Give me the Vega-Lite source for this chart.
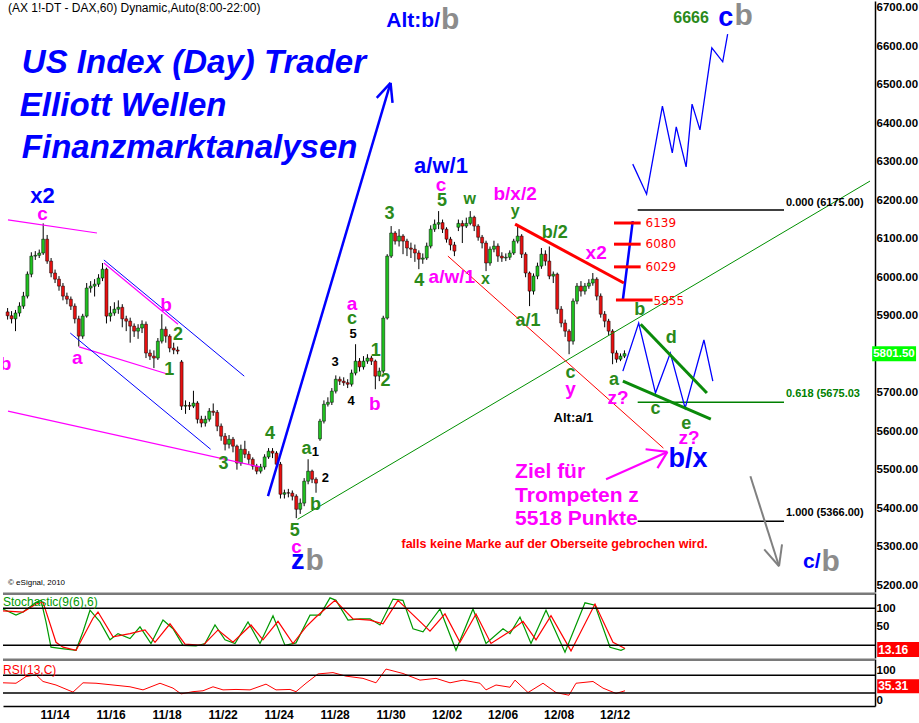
{
"$schema": "https://vega.github.io/schema/vega-lite/v6.json",
"padding": 0,
"background": "white",
"spacing": 0,
"config": {"view": {"stroke": null}, "axis": {"labelFont": "Liberation Sans", "labelFontSize": 11.5, "labelFontWeight": "bold", "labelColor": "black", "ticks": false, "grid": false, "domainColor": "black", "domainWidth": 1.5, "labelPadding": 1, "labelOverlap": false}},
"datasets": {
"candles": [
{"t":-26,"o":5910,"h":5920,"l":5890,"c":5900},{"t":-24,"o":5900,"h":5912,"l":5880,"c":5892},{"t":-22,"o":5892,"h":5915,"l":5860,"c":5907},{"t":-20,"o":5907,"h":5935,"l":5898,"c":5925},{"t":-18,"o":5925,"h":5962,"l":5918,"c":5951},{"t":-16,"o":5951,"h":6015,"l":5945,"c":6008},{"t":-14,"o":6008,"h":6065,"l":6000,"c":6055},{"t":-12,"o":6055,"h":6068,"l":6045,"c":6057},{"t":-10,"o":6057,"h":6072,"l":6050,"c":6063},{"t":-8,"o":6063,"h":6140,"l":6058,"c":6099},
{"t":-6,"o":6099,"h":6110,"l":6035,"c":6042},{"t":-4,"o":6042,"h":6050,"l":6000,"c":6011},{"t":-2,"o":6011,"h":6020,"l":5985,"c":5995},{"t":0,"o":5995,"h":6003,"l":5965,"c":5977},{"t":2,"o":5977,"h":5985,"l":5940,"c":5951},{"t":4,"o":5951,"h":5960,"l":5930,"c":5943},{"t":6,"o":5943,"h":5950,"l":5915,"c":5925},{"t":8,"o":5925,"h":5932,"l":5880,"c":5892},{"t":10,"o":5892,"h":5900,"l":5820,"c":5847},{"t":12,"o":5847,"h":5905,"l":5840,"c":5899},
{"t":14,"o":5899,"h":5985,"l":5895,"c":5972},{"t":16,"o":5972,"h":5990,"l":5960,"c":5977},{"t":18,"o":5977,"h":5995,"l":5950,"c":5982},{"t":20,"o":5982,"h":6008,"l":5975,"c":5998},{"t":22,"o":5998,"h":6037,"l":5990,"c":6021},{"t":24,"o":6021,"h":6025,"l":5880,"c":5899},{"t":26,"o":5899,"h":5925,"l":5885,"c":5907},{"t":28,"o":5907,"h":5935,"l":5900,"c":5917},{"t":30,"o":5917,"h":5940,"l":5905,"c":5922},{"t":32,"o":5922,"h":5930,"l":5870,"c":5892},
{"t":34,"o":5892,"h":5900,"l":5860,"c":5886},{"t":36,"o":5886,"h":5895,"l":5830,"c":5873},{"t":38,"o":5873,"h":5880,"l":5845,"c":5860},{"t":40,"o":5860,"h":5878,"l":5840,"c":5868},{"t":42,"o":5868,"h":5888,"l":5855,"c":5878},{"t":44,"o":5878,"h":5885,"l":5790,"c":5803},{"t":46,"o":5803,"h":5812,"l":5785,"c":5795},{"t":48,"o":5795,"h":5810,"l":5764,"c":5790},{"t":50,"o":5790,"h":5842,"l":5785,"c":5834},{"t":52,"o":5834,"h":5904,"l":5828,"c":5865},
{"t":54,"o":5865,"h":5872,"l":5830,"c":5847},{"t":56,"o":5847,"h":5852,"l":5805,"c":5816},{"t":58,"o":5816,"h":5830,"l":5800,"c":5811},{"t":60,"o":5811,"h":5820,"l":5800,"c":5808},{"t":62,"o":5780,"h":5785,"l":5655,"c":5665},{"t":64,"o":5665,"h":5680,"l":5645,"c":5667},{"t":66,"o":5667,"h":5676,"l":5655,"c":5665},{"t":68,"o":5665,"h":5705,"l":5660,"c":5673},{"t":70,"o":5673,"h":5678,"l":5620,"c":5631},{"t":72,"o":5631,"h":5640,"l":5610,"c":5621},
{"t":74,"o":5621,"h":5640,"l":5612,"c":5631},{"t":76,"o":5631,"h":5660,"l":5625,"c":5652},{"t":78,"o":5652,"h":5672,"l":5640,"c":5649},{"t":80,"o":5649,"h":5655,"l":5600,"c":5613},{"t":82,"o":5613,"h":5620,"l":5575,"c":5587},{"t":84,"o":5587,"h":5595,"l":5550,"c":5566},{"t":86,"o":5566,"h":5590,"l":5555,"c":5579},{"t":88,"o":5579,"h":5585,"l":5545,"c":5561},{"t":90,"o":5561,"h":5565,"l":5500,"c":5517},{"t":92,"o":5517,"h":5565,"l":5510,"c":5553},
{"t":94,"o":5553,"h":5575,"l":5530,"c":5540},{"t":96,"o":5540,"h":5548,"l":5515,"c":5527},{"t":98,"o":5527,"h":5532,"l":5500,"c":5509},{"t":100,"o":5509,"h":5515,"l":5488,"c":5496},{"t":102,"o":5496,"h":5515,"l":5490,"c":5507},{"t":104,"o":5507,"h":5540,"l":5500,"c":5533},{"t":106,"o":5533,"h":5556,"l":5528,"c":5548},{"t":108,"o":5548,"h":5556,"l":5530,"c":5543},{"t":110,"o":5543,"h":5548,"l":5500,"c":5514},{"t":112,"o":5514,"h":5520,"l":5425,"c":5436},
{"t":114,"o":5436,"h":5448,"l":5425,"c":5440},{"t":116,"o":5440,"h":5450,"l":5428,"c":5439},{"t":118,"o":5439,"h":5446,"l":5420,"c":5431},{"t":120,"o":5431,"h":5436,"l":5374,"c":5397},{"t":122,"o":5397,"h":5425,"l":5385,"c":5413},{"t":124,"o":5413,"h":5478,"l":5405,"c":5470},{"t":126,"o":5470,"h":5527,"l":5462,"c":5496},{"t":128,"o":5496,"h":5500,"l":5465,"c":5475},{"t":130,"o":5475,"h":5480,"l":5440,"c":5465},{"t":132,"o":5580,"h":5632,"l":5575,"c":5626},
{"t":134,"o":5626,"h":5680,"l":5620,"c":5670},{"t":136,"o":5670,"h":5688,"l":5664,"c":5675},{"t":138,"o":5675,"h":5712,"l":5668,"c":5704},{"t":140,"o":5704,"h":5745,"l":5698,"c":5735},{"t":142,"o":5735,"h":5742,"l":5720,"c":5730},{"t":144,"o":5730,"h":5740,"l":5718,"c":5726},{"t":146,"o":5726,"h":5735,"l":5712,"c":5722},{"t":148,"o":5722,"h":5760,"l":5716,"c":5751},{"t":150,"o":5751,"h":5826,"l":5745,"c":5782},{"t":152,"o":5782,"h":5790,"l":5755,"c":5767},
{"t":154,"o":5767,"h":5795,"l":5760,"c":5782},{"t":156,"o":5782,"h":5800,"l":5775,"c":5790},{"t":158,"o":5790,"h":5796,"l":5772,"c":5782},{"t":160,"o":5782,"h":5786,"l":5709,"c":5743},{"t":162,"o":5743,"h":5765,"l":5730,"c":5756},{"t":164,"o":5756,"h":5900,"l":5750,"c":5894},{"t":166,"o":5894,"h":6060,"l":5890,"c":6055},{"t":168,"o":6055,"h":6133,"l":6050,"c":6115},{"t":170,"o":6115,"h":6120,"l":6085,"c":6094},{"t":172,"o":6094,"h":6125,"l":6080,"c":6107},
{"t":174,"o":6107,"h":6112,"l":6060,"c":6094},{"t":176,"o":6094,"h":6100,"l":6055,"c":6076},{"t":178,"o":6076,"h":6090,"l":6050,"c":6073},{"t":180,"o":6073,"h":6085,"l":6040,"c":6063},{"t":182,"o":6063,"h":6070,"l":6021,"c":6047},{"t":184,"o":6047,"h":6062,"l":6035,"c":6050},{"t":186,"o":6050,"h":6090,"l":6045,"c":6081},{"t":188,"o":6081,"h":6135,"l":6075,"c":6125},{"t":190,"o":6125,"h":6150,"l":6118,"c":6138},{"t":192,"o":6138,"h":6172,"l":6125,"c":6142},
{"t":194,"o":6142,"h":6150,"l":6115,"c":6125},{"t":196,"o":6125,"h":6130,"l":6090,"c":6099},{"t":198,"o":6099,"h":6105,"l":6070,"c":6084},{"t":200,"o":6084,"h":6092,"l":6055,"c":6068},{"t":202,"o":6130,"h":6150,"l":6120,"c":6140},{"t":204,"o":6140,"h":6148,"l":6089,"c":6133},{"t":206,"o":6133,"h":6155,"l":6128,"c":6140},{"t":208,"o":6140,"h":6172,"l":6135,"c":6156},{"t":210,"o":6156,"h":6160,"l":6120,"c":6133},{"t":212,"o":6133,"h":6138,"l":6095,"c":6104},
{"t":214,"o":6104,"h":6110,"l":6075,"c":6089},{"t":216,"o":6089,"h":6095,"l":6016,"c":6037},{"t":218,"o":6037,"h":6080,"l":6030,"c":6073},{"t":220,"o":6073,"h":6095,"l":6065,"c":6081},{"t":222,"o":6081,"h":6088,"l":6040,"c":6055},{"t":224,"o":6055,"h":6065,"l":6040,"c":6050},{"t":226,"o":6050,"h":6062,"l":6042,"c":6052},{"t":228,"o":6052,"h":6070,"l":6045,"c":6063},{"t":230,"o":6063,"h":6100,"l":6058,"c":6094},{"t":232,"o":6094,"h":6133,"l":6088,"c":6107},
{"t":234,"o":6107,"h":6112,"l":6050,"c":6060},{"t":236,"o":6060,"h":6065,"l":6000,"c":6011},{"t":238,"o":6011,"h":6015,"l":5925,"c":5964},{"t":240,"o":5964,"h":6010,"l":5955,"c":6003},{"t":242,"o":6003,"h":6038,"l":5995,"c":6029},{"t":244,"o":6029,"h":6076,"l":6022,"c":6060},{"t":246,"o":6060,"h":6070,"l":6030,"c":6042},{"t":248,"o":6042,"h":6080,"l":5995,"c":6003},{"t":250,"o":6003,"h":6015,"l":5985,"c":6008},{"t":252,"o":6008,"h":6012,"l":5905,"c":5917},
{"t":254,"o":5917,"h":5925,"l":5870,"c":5881},{"t":256,"o":5881,"h":5890,"l":5845,"c":5860},{"t":258,"o":5860,"h":5865,"l":5800,"c":5834},{"t":260,"o":5834,"h":5945,"l":5825,"c":5938},{"t":262,"o":5938,"h":5985,"l":5930,"c":5977},{"t":264,"o":5977,"h":5990,"l":5950,"c":5964},{"t":266,"o":5964,"h":5985,"l":5955,"c":5977},{"t":268,"o":5977,"h":5995,"l":5970,"c":5985},{"t":270,"o":5985,"h":6011,"l":5978,"c":5995},{"t":272,"o":5995,"h":6000,"l":5940,"c":5951},
{"t":274,"o":5951,"h":5958,"l":5895,"c":5904},{"t":276,"o":5904,"h":5912,"l":5870,"c":5886},{"t":278,"o":5886,"h":5892,"l":5850,"c":5860},{"t":280,"o":5860,"h":5865,"l":5774,"c":5803},{"t":282,"o":5803,"h":5810,"l":5778,"c":5787},{"t":284,"o":5787,"h":5802,"l":5782,"c":5795},{"t":286,"o":5795,"h":5810,"l":5790,"c":5801.5}
],
"seg_magenta": [{"t":-25.8,"v":6149,"t2":19.2,"v2":6115},{"t":22.7,"v":6037,"t2":60.2,"v2":5878},{"t":10.2,"v":5819,"t2":55.2,"v2":5748},{"t":-25.8,"v":5652,"t2":101.7,"v2":5507}],
"seg_magenta_arrow": [{"t":276.7,"v":5475,"t2":307.7,"v2":5546},{"t":307.7,"v":5546,"t2":296.7,"v2":5553},{"t":307.7,"v":5546,"t2":302.7,"v2":5504}],
"seg_blue_thin": [{"t":22.7,"v":6045,"t2":93.7,"v2":5743},{"t":5.7,"v":5855,"t2":76.7,"v2":5553}],
"seg_blue_thick": [{"t":105.7,"v":5431,"t2":167.7,"v2":6505},{"t":167.7,"v":6505,"t2":160.7,"v2":6466},{"t":167.7,"v":6505,"t2":168.7,"v2":6453},{"t":285.2,"v":5941,"t2":290.2,"v2":6146}],
"seg_green_thin": [{"t":120.7,"v":5371,"t2":410.2,"v2":6250}],
"seg_green_thick": [{"t":294.2,"v":5878,"t2":327.7,"v2":5699},{"t":285.2,"v":5730,"t2":329.7,"v2":5631}],
"seg_red_thin": [{"t":196.7,"v":6055,"t2":305.7,"v2":5556}],
"seg_red_thick": [{"t":230.7,"v":6138,"t2":285.7,"v2":5985},{"t":280.7,"v":6141,"t2":294.2,"v2":6141},{"t":280.7,"v":6086,"t2":294.2,"v2":6086},{"t":280.7,"v":6027,"t2":294.2,"v2":6027},{"t":281.7,"v":5941,"t2":300.2,"v2":5941}],
"seg_gray": [{"t":349.7,"v":5483,"t2":364.2,"v2":5249},{"t":364.2,"v":5249,"t2":356.7,"v2":5293},{"t":364.2,"v":5249,"t2":365.7,"v2":5306}],
"fib_black": [{"t":292.7,"v":6175,"t2":366.7,"v2":6175},{"t":292.7,"v":5366,"t2":366.7,"v2":5366}],
"fib_green": [{"t":292.7,"v":5675.03,"t2":366.7,"v2":5675.03}],
"zig": [
{"id":"low","t":285.2,"v":5756},{"id":"low","t":293.2,"v":5881},{"id":"low","t":301.7,"v":5699},{"id":"low","t":309.2,"v":5803},{"id":"low","t":316.7,"v":5660},{"id":"low","t":326.2,"v":5837},{"id":"low","t":330.7,"v":5730},
{"id":"up","t":290.2,"v":6294},{"id":"up","t":297.2,"v":6216},{"id":"up","t":305.2,"v":6445},{"id":"up","t":310.2,"v":6323},{"id":"up","t":312.2,"v":6391},{"id":"up","t":317.2,"v":6287},{"id":"up","t":320.2,"v":6450},{"id":"up","t":324.2,"v":6383},{"id":"up","t":330.2,"v":6596},{"id":"up","t":335.7,"v":6560},{"id":"up","t":338.2,"v":6632}
],
"lbl_green": [{"t":60.2,"v":5850,"text":"2"},{"t":55.7,"v":5759,"text":"1"},{"t":83.2,"v":5514,"text":"3"},{"t":106.7,"v":5592,"text":"4"},{"t":125.2,"v":5553,"text":"a"},{"t":129.7,"v":5408,"text":"b"},{"t":119.2,"v":5340,"text":"5"},{"t":148.2,"v":5891,"text":"c"},{"t":160.2,"v":5808,"text":"1"},{"t":165.2,"v":5730,"text":"2"},{"t":167.2,"v":6164,"text":"3"},{"t":182.2,"v":5990,"text":"4"},{"t":193.7,"v":6198,"text":"5"},{"t":250.7,"v":6115,"text":"b/2"},{"t":237.2,"v":5886,"text":"a/1"},{"t":258.7,"v":5751,"text":"c"},{"t":280.7,"v":5733,"text":"a"},{"t":293.7,"v":5915,"text":"b"},{"t":309.7,"v":5842,"text":"d"},{"t":301.7,"v":5657,"text":"c"},{"t":317.2,"v":5618,"text":"e"}],
"lbl_green_small": [{"t":207.7,"v":6203,"text":"w"},{"t":215.7,"v":5995,"text":"x"},{"t":230.7,"v":6172,"text":"y"},{"t":319.7,"v":6674,"text":"6666"}],
"lbl_magenta": [{"t":-8.3,"v":6164,"text":"c"},{"t":9.2,"v":5790,"text":"a"},{"t":54.2,"v":5928,"text":"b"},{"t":-27,"v":5774,"text":"b"},{"t":120.2,"v":5299,"text":"c"},{"t":148.2,"v":5930,"text":"a"},{"t":159.7,"v":5670,"text":"b"},{"t":193.2,"v":6240,"text":"c"},{"t":198.7,"v":6001,"text":"a/w/1"},{"t":230.7,"v":6216,"text":"b/x/2"},{"t":271.7,"v":6063,"text":"x2"},{"t":258.7,"v":5709,"text":"y"},{"t":282.7,"v":5686,"text":"z?"},{"t":318.7,"v":5582,"text":"z?"}],
"lbl_ziel": [{"t":230.7,"v":5494,"text":"Ziel für"},{"t":230.7,"v":5431,"text":"Trompeten z"},{"t":230.7,"v":5371,"text":"5518 Punkte"}],
"lbl_black": [{"t":148.7,"v":5852,"text":"5"},{"t":139.7,"v":5780,"text":"3"},{"t":147.7,"v":5678,"text":"4"},{"t":134.7,"v":5478,"text":"2"},{"t":129.7,"v":5546,"text":"1"},{"t":260.2,"v":5634,"text":"Alt:a/1"}],
"lbl_blue": [{"t":-8.3,"v":6210,"text":"x2"},{"t":193.2,"v":6289,"text":"a/w/1"}],
"lbl_blue_big": [{"t":120.7,"v":5262,"text":"z"},{"t":318.2,"v":5527,"text":"b/x"},{"t":337.2,"v":6674,"text":"c"}],
"lbl_blue_right": [{"t":192.7,"v":6666,"text":"Alt:b/"},{"t":385.2,"v":5260,"text":"c/"}],
"lbl_gray": [{"t":193.2,"v":6669,"text":"b"},{"t":124.7,"v":5262,"text":"b"},{"t":341.7,"v":6680,"text":"b"},{"t":385.7,"v":5260,"text":"b"}],
"lbl_title": [{"t":-18.8,"v":6557,"text":"US Index (Day) Trader"},{"t":-19.8,"v":6445,"text":"Elliott Wellen"},{"t":-18.8,"v":6336,"text":"Finanzmarktanalysen"}],
"lbl_red": [{"t":296.7,"v":6141,"text":"6139"},{"t":296.7,"v":6086,"text":"6080"},{"t":296.7,"v":6027,"text":"6029"},{"t":300.7,"v":5938,"text":"5955"}],
"lbl_fib_black": [{"t":367.7,"v":6193,"text":"0.000 (6175.00)"},{"t":367.7,"v":5387,"text":"1.000 (5366.00)"}],
"lbl_fib_green": [{"t":367.7,"v":5696,"text":"0.618 (5675.03"}],
"stochK": [{"t":-25.8,"v":79},{"t":-19.3,"v":69},{"t":-15.8,"v":74},{"t":-9.3,"v":90},{"t":-6.8,"v":93},{"t":-4.3,"v":58},{"t":-1.8,"v":17},{"t":2.7,"v":15},{"t":10.7,"v":12},{"t":14.2,"v":42},{"t":17.7,"v":77},{"t":22.7,"v":58},{"t":27.7,"v":29},{"t":31.7,"v":39},{"t":37.7,"v":31},{"t":42.7,"v":50},{"t":48.2,"v":23},{"t":54.2,"v":61},{"t":59.2,"v":47},{"t":64.2,"v":20},{"t":70.7,"v":19},{"t":75.2,"v":23},{"t":80.2,"v":53},{"t":85.2,"v":29},{"t":90.2,"v":23},{"t":96.7,"v":58},{"t":102.7,"v":23},{"t":109.2,"v":68},{"t":115.2,"v":20},{"t":120.7,"v":24},{"t":127.7,"v":69},{"t":132.7,"v":69},{"t":137.7,"v":97},{"t":140.7,"v":93},{"t":146.7,"v":61},{"t":152.7,"v":63},{"t":157.7,"v":63},{"t":162.7,"v":53},{"t":169.2,"v":95},{"t":174.2,"v":93},{"t":179.2,"v":47},{"t":184.2,"v":42},{"t":192.7,"v":79},{"t":200.7,"v":12},{"t":209.2,"v":79},{"t":215.7,"v":23},{"t":224.2,"v":47},{"t":227.7,"v":39},{"t":232.7,"v":66},{"t":238.2,"v":23},{"t":245.7,"v":77},{"t":255.2,"v":9},{"t":265.2,"v":89},{"t":270.2,"v":85},{"t":277.7,"v":17},{"t":283.2,"v":12},{"t":285.2,"v":15}],
"stochD": [{"t":-25.8,"v":76},{"t":-15.8,"v":74},{"t":-9.3,"v":87},{"t":-5.8,"v":90},{"t":0.7,"v":25},{"t":4.2,"v":17},{"t":10.7,"v":12},{"t":19.2,"v":64},{"t":21.7,"v":74},{"t":29.2,"v":34},{"t":37.7,"v":39},{"t":45.2,"v":45},{"t":50.2,"v":25},{"t":57.7,"v":55},{"t":65.2,"v":22},{"t":74.2,"v":20},{"t":81.7,"v":45},{"t":89.2,"v":25},{"t":98.2,"v":53},{"t":104.2,"v":29},{"t":111.7,"v":59},{"t":119.2,"v":23},{"t":125.7,"v":50},{"t":130.7,"v":66},{"t":140.2,"v":93},{"t":149.2,"v":63},{"t":157.7,"v":61},{"t":164.2,"v":55},{"t":171.7,"v":93},{"t":187.7,"v":43},{"t":195.2,"v":71},{"t":202.7,"v":25},{"t":210.7,"v":71},{"t":218.2,"v":23},{"t":227.7,"v":43},{"t":234.2,"v":59},{"t":240.7,"v":29},{"t":248.2,"v":68},{"t":258.2,"v":11},{"t":270.2,"v":87},{"t":279.2,"v":25},{"t":285.2,"v":15}],
"rsi": [{"t":-25.8,"v":53},{"t":-19.3,"v":52},{"t":-14.3,"v":67},{"t":-9.3,"v":71},{"t":-5.8,"v":56},{"t":0.7,"v":48},{"t":9.2,"v":32},{"t":14.2,"v":53},{"t":20.7,"v":52},{"t":29.2,"v":48},{"t":37.7,"v":44},{"t":44.2,"v":37},{"t":52.7,"v":52},{"t":59.2,"v":41},{"t":63.2,"v":28},{"t":69.2,"v":33},{"t":74.2,"v":35},{"t":79.2,"v":44},{"t":84.2,"v":37},{"t":90.7,"v":38},{"t":97.7,"v":37},{"t":105.7,"v":50},{"t":110.7,"v":37},{"t":117.7,"v":38},{"t":120.7,"v":33},{"t":125.7,"v":52},{"t":131.7,"v":73},{"t":139.2,"v":76},{"t":145.7,"v":68},{"t":154.2,"v":63},{"t":160.7,"v":53},{"t":165.7,"v":84},{"t":174.2,"v":74},{"t":182.7,"v":59},{"t":190.7,"v":63},{"t":197.7,"v":53},{"t":204.2,"v":59},{"t":212.7,"v":52},{"t":215.7,"v":37},{"t":220.7,"v":48},{"t":227.7,"v":43},{"t":230.2,"v":59},{"t":236.7,"v":31},{"t":244.2,"v":52},{"t":250.7,"v":31},{"t":257.2,"v":25},{"t":260.7,"v":52},{"t":269.2,"v":56},{"t":274.2,"v":41},{"t":280.7,"v":29},{"t":285.2,"v":35}]
},
"vconcat": [
{
"width": 872, "height": 591,
"resolve": {"axis": {"x": "independent", "y": "independent"}},
"layer": [
{"data": {"name": "candles"}, "mark": {"type": "rule", "color": "black", "strokeWidth": 1},
 "encoding": {"x": {"field": "t", "type": "quantitative", "scale": {"domain": [-25.8, 410.2], "nice": false, "zero": false}, "axis": null},
  "y": {"field": "l", "type": "quantitative", "scale": {"domain": [5182, 6718], "nice": false, "zero": false}, "axis": {"orient": "right", "title": null, "values": [5200,5300,5400,5500,5600,5700,5900,6000,6100,6200,6300,6400,6500,6600,6700], "format": ".2f"}},
  "y2": {"field": "h"}}},
{"data": {"name": "candles"}, "mark": {"type": "bar", "size": 3, "stroke": "black", "strokeWidth": 0.5},
 "encoding": {"x": {"field": "t", "type": "quantitative", "axis": null}, "y": {"field": "o", "type": "quantitative", "axis": null}, "y2": {"field": "c"},
  "color": {"condition": {"test": "datum.c >= datum.o", "value": "#1fc21f"}, "value": "#e81010"}}},
{"data": {"name": "seg_magenta"}, "mark": {"type": "rule", "color": "#ff00ff", "strokeWidth": 1.2, "clip": true},
 "encoding": {"x": {"field": "t", "type": "quantitative", "axis": null}, "y": {"field": "v", "type": "quantitative", "axis": null}, "x2": {"field": "t2"}, "y2": {"field": "v2"}}},
{"data": {"name": "seg_magenta_arrow"}, "mark": {"type": "rule", "color": "#ff00ff", "strokeWidth": 2.2},
 "encoding": {"x": {"field": "t", "type": "quantitative", "axis": null}, "y": {"field": "v", "type": "quantitative", "axis": null}, "x2": {"field": "t2"}, "y2": {"field": "v2"}}},
{"data": {"name": "seg_blue_thin"}, "mark": {"type": "rule", "color": "#0000ff", "strokeWidth": 1},
 "encoding": {"x": {"field": "t", "type": "quantitative", "axis": null}, "y": {"field": "v", "type": "quantitative", "axis": null}, "x2": {"field": "t2"}, "y2": {"field": "v2"}}},
{"data": {"name": "seg_blue_thick"}, "mark": {"type": "rule", "color": "#0000ff", "strokeWidth": 2.5},
 "encoding": {"x": {"field": "t", "type": "quantitative", "axis": null}, "y": {"field": "v", "type": "quantitative", "axis": null}, "x2": {"field": "t2"}, "y2": {"field": "v2"}}},
{"data": {"name": "seg_green_thin"}, "mark": {"type": "rule", "color": "#009000", "strokeWidth": 1, "clip": true},
 "encoding": {"x": {"field": "t", "type": "quantitative", "axis": null}, "y": {"field": "v", "type": "quantitative", "axis": null}, "x2": {"field": "t2"}, "y2": {"field": "v2"}}},
{"data": {"name": "seg_red_thin"}, "mark": {"type": "rule", "color": "#ff0000", "strokeWidth": 1},
 "encoding": {"x": {"field": "t", "type": "quantitative", "axis": null}, "y": {"field": "v", "type": "quantitative", "axis": null}, "x2": {"field": "t2"}, "y2": {"field": "v2"}}},
{"data": {"name": "seg_red_thick"}, "mark": {"type": "rule", "color": "#ff0000", "strokeWidth": 3},
 "encoding": {"x": {"field": "t", "type": "quantitative", "axis": null}, "y": {"field": "v", "type": "quantitative", "axis": null}, "x2": {"field": "t2"}, "y2": {"field": "v2"}}},
{"data": {"name": "fib_black"}, "mark": {"type": "rule", "color": "black", "strokeWidth": 1.5},
 "encoding": {"x": {"field": "t", "type": "quantitative", "axis": null}, "y": {"field": "v", "type": "quantitative", "axis": null}, "x2": {"field": "t2"}, "y2": {"field": "v2"}}},
{"data": {"name": "fib_green"}, "mark": {"type": "rule", "color": "#008000", "strokeWidth": 1.5},
 "encoding": {"x": {"field": "t", "type": "quantitative", "axis": null}, "y": {"field": "v", "type": "quantitative", "axis": null}, "x2": {"field": "t2"}, "y2": {"field": "v2"}}},
{"data": {"name": "zig"}, "mark": {"type": "line", "color": "#0000ff", "strokeWidth": 1.3},
 "encoding": {"x": {"field": "t", "type": "quantitative", "axis": null}, "y": {"field": "v", "type": "quantitative", "axis": null}, "detail": {"field": "id"}}},
{"data": {"name": "seg_green_thick"}, "mark": {"type": "rule", "color": "#0a8a0a", "strokeWidth": 3},
 "encoding": {"x": {"field": "t", "type": "quantitative", "axis": null}, "y": {"field": "v", "type": "quantitative", "axis": null}, "x2": {"field": "t2"}, "y2": {"field": "v2"}}},
{"data": {"name": "seg_gray"}, "mark": {"type": "rule", "color": "#808080", "strokeWidth": 2},
 "encoding": {"x": {"field": "t", "type": "quantitative", "axis": null}, "y": {"field": "v", "type": "quantitative", "axis": null}, "x2": {"field": "t2"}, "y2": {"field": "v2"}}},
{"data": {"name": "lbl_green"}, "mark": {"type": "text", "font": "Liberation Sans", "fontWeight": "bold", "fontSize": 18, "color": "#2a8a1a", "align": "center", "baseline": "middle"},
 "encoding": {"x": {"field": "t", "type": "quantitative", "axis": null}, "y": {"field": "v", "type": "quantitative", "axis": null}, "text": {"field": "text"}}},
{"data": {"name": "lbl_green_small"}, "mark": {"type": "text", "font": "Liberation Sans", "fontWeight": "bold", "fontSize": 16, "color": "#2a8a1a", "align": "center", "baseline": "middle"},
 "encoding": {"x": {"field": "t", "type": "quantitative", "axis": null}, "y": {"field": "v", "type": "quantitative", "axis": null}, "text": {"field": "text"}}},
{"data": {"name": "lbl_magenta"}, "mark": {"type": "text", "font": "Liberation Sans", "fontWeight": "bold", "fontSize": 19, "color": "#ff00ff", "align": "center", "baseline": "middle", "clip": true},
 "encoding": {"x": {"field": "t", "type": "quantitative", "axis": null}, "y": {"field": "v", "type": "quantitative", "axis": null}, "text": {"field": "text"}}},
{"data": {"name": "lbl_ziel"}, "mark": {"type": "text", "font": "Liberation Sans", "fontWeight": "bold", "fontSize": 21, "color": "#ff00ff", "align": "left", "baseline": "middle"},
 "encoding": {"x": {"field": "t", "type": "quantitative", "axis": null}, "y": {"field": "v", "type": "quantitative", "axis": null}, "text": {"field": "text"}}},
{"data": {"name": "lbl_black"}, "mark": {"type": "text", "font": "Liberation Sans", "fontWeight": "bold", "fontSize": 13, "color": "black", "align": "center", "baseline": "middle"},
 "encoding": {"x": {"field": "t", "type": "quantitative", "axis": null}, "y": {"field": "v", "type": "quantitative", "axis": null}, "text": {"field": "text"}}},
{"data": {"name": "lbl_blue"}, "mark": {"type": "text", "font": "Liberation Sans", "fontWeight": "bold", "fontSize": 22, "color": "#0000ff", "align": "center", "baseline": "middle"},
 "encoding": {"x": {"field": "t", "type": "quantitative", "axis": null}, "y": {"field": "v", "type": "quantitative", "axis": null}, "text": {"field": "text"}}},
{"data": {"name": "lbl_blue_big"}, "mark": {"type": "text", "font": "Liberation Sans", "fontWeight": "bold", "fontSize": 27, "color": "#0000ff", "align": "center", "baseline": "middle"},
 "encoding": {"x": {"field": "t", "type": "quantitative", "axis": null}, "y": {"field": "v", "type": "quantitative", "axis": null}, "text": {"field": "text"}}},
{"data": {"name": "lbl_blue_right"}, "mark": {"type": "text", "font": "Liberation Sans", "fontWeight": "bold", "fontSize": 21, "color": "#0000ff", "align": "right", "baseline": "middle"},
 "encoding": {"x": {"field": "t", "type": "quantitative", "axis": null}, "y": {"field": "v", "type": "quantitative", "axis": null}, "text": {"field": "text"}}},
{"data": {"name": "lbl_gray"}, "mark": {"type": "text", "font": "Liberation Sans", "fontWeight": "bold", "fontSize": 30, "color": "#8c8c8c", "align": "left", "baseline": "middle"},
 "encoding": {"x": {"field": "t", "type": "quantitative", "axis": null}, "y": {"field": "v", "type": "quantitative", "axis": null}, "text": {"field": "text"}}},
{"data": {"name": "lbl_title"}, "mark": {"type": "text", "font": "Liberation Sans", "fontWeight": "bold", "fontStyle": "italic", "fontSize": 33, "color": "#0000ff", "align": "left", "baseline": "middle"},
 "encoding": {"x": {"field": "t", "type": "quantitative", "axis": null}, "y": {"field": "v", "type": "quantitative", "axis": null}, "text": {"field": "text"}}},
{"data": {"name": "lbl_red"}, "mark": {"type": "text", "font": "DejaVu Sans", "fontSize": 12, "color": "#ff0000", "align": "left", "baseline": "middle"},
 "encoding": {"x": {"field": "t", "type": "quantitative", "axis": null}, "y": {"field": "v", "type": "quantitative", "axis": null}, "text": {"field": "text"}}},
{"data": {"name": "lbl_fib_black"}, "mark": {"type": "text", "font": "Liberation Sans", "fontWeight": "bold", "fontSize": 11, "color": "black", "align": "left", "baseline": "middle"},
 "encoding": {"x": {"field": "t", "type": "quantitative", "axis": null}, "y": {"field": "v", "type": "quantitative", "axis": null}, "text": {"field": "text"}}},
{"data": {"name": "lbl_fib_green"}, "mark": {"type": "text", "font": "Liberation Sans", "fontWeight": "bold", "fontSize": 11, "color": "#008000", "align": "left", "baseline": "middle"},
 "encoding": {"x": {"field": "t", "type": "quantitative", "axis": null}, "y": {"field": "v", "type": "quantitative", "axis": null}, "text": {"field": "text"}}},
{"data": {"values": [{}]}, "mark": {"type": "text", "text": "falls keine Marke auf der Oberseite gebrochen wird.", "font": "Liberation Sans", "fontWeight": "bold", "fontSize": 12.5, "color": "#ff0000", "align": "center", "baseline": "middle"},
 "encoding": {"x": {"datum": 250.7, "type": "quantitative", "axis": null}, "y": {"datum": 5306, "type": "quantitative", "axis": null}}},
{"data": {"values": [{}]}, "mark": {"type": "text", "text": "(AX 1!-DT - DAX,60) Dynamic,Auto(8:00-22:00)", "font": "Liberation Sans", "fontSize": 12, "color": "black", "align": "left", "baseline": "middle"},
 "encoding": {"x": {"datum": -25.8, "type": "quantitative", "axis": null}, "y": {"datum": 6700, "type": "quantitative", "axis": null}}},
{"data": {"values": [{}]}, "mark": {"type": "text", "text": "© eSignal, 2010", "font": "Liberation Sans", "fontSize": 8, "color": "black", "align": "left", "baseline": "middle"},
 "encoding": {"x": {"datum": -25.8, "type": "quantitative", "axis": null}, "y": {"datum": 5205, "type": "quantitative", "axis": null}}},
{"data": {"values": [{}]}, "mark": {"type": "rect", "color": "#00ff00"},
 "encoding": {"x": {"datum": 411.3, "type": "quantitative", "axis": null}, "x2": {"datum": 433.5}, "y": {"datum": 5821, "type": "quantitative", "axis": null}, "y2": {"datum": 5782}}},
{"data": {"values": [{}]}, "mark": {"type": "text", "text": "5801.50", "font": "Liberation Sans", "fontWeight": "bold", "fontSize": 11.5, "color": "white", "align": "left", "baseline": "middle"},
 "encoding": {"x": {"datum": 411.8, "type": "quantitative", "axis": null}, "y": {"datum": 5801.5, "type": "quantitative", "axis": null}}}
]
},
{
"width": 872, "height": 65,
"resolve": {"axis": {"x": "independent", "y": "independent"}},
"layer": [
{"data": {"name": "stochK"}, "mark": {"type": "line", "color": "#009900", "strokeWidth": 1.2},
 "encoding": {"x": {"field": "t", "type": "quantitative", "scale": {"domain": [-25.8, 410.2], "nice": false, "zero": false}, "axis": null},
  "y": {"field": "v", "type": "quantitative", "scale": {"domain": [-0.5, 104.9], "nice": false, "zero": false}, "axis": {"orient": "right", "title": null, "values": [80, 50], "labelExpr": "datum.value == 80 ? '100' : '50'"}}}},
{"data": {"name": "stochD"}, "mark": {"type": "line", "color": "#ff0000", "strokeWidth": 1.2},
 "encoding": {"x": {"field": "t", "type": "quantitative", "axis": null}, "y": {"field": "v", "type": "quantitative", "axis": null}}},
{"data": {"values": [{}]}, "mark": {"type": "rule", "color": "#7a7a7a", "strokeWidth": 2.5},
 "encoding": {"y": {"datum": 103.5, "type": "quantitative", "axis": null}}},
{"data": {"values": [{}]}, "mark": {"type": "rule", "color": "black", "strokeWidth": 1.5},
 "encoding": {"y": {"datum": 80, "type": "quantitative", "axis": null}}},
{"data": {"values": [{}]}, "mark": {"type": "rule", "color": "black", "strokeWidth": 1.5},
 "encoding": {"y": {"datum": 20, "type": "quantitative", "axis": null}}},
{"data": {"values": [{}]}, "mark": {"type": "text", "text": "Stochastic(9(6),6)", "font": "Liberation Sans", "fontSize": 12, "color": "#009900", "align": "left", "baseline": "middle"},
 "encoding": {"x": {"datum": -25.8, "type": "quantitative", "axis": null}, "y": {"datum": 90, "type": "quantitative", "axis": null}}},
{"data": {"values": [{}]}, "mark": {"type": "rect", "color": "#ff0000"},
 "encoding": {"x": {"datum": 411.3, "type": "quantitative", "axis": null}, "x2": {"datum": 433.5}, "y": {"datum": 25.4, "type": "quantitative", "axis": null}, "y2": {"datum": 1.1}}},
{"data": {"values": [{}]}, "mark": {"type": "text", "text": "13.16", "font": "Liberation Sans", "fontWeight": "bold", "fontSize": 12, "color": "white", "align": "left", "baseline": "middle"},
 "encoding": {"x": {"datum": 411.8, "type": "quantitative", "axis": null}, "y": {"datum": 13.16, "type": "quantitative", "axis": null}}}
]
},
{
"width": 872, "height": 47,
"resolve": {"axis": {"x": "independent", "y": "independent"}},
"layer": [
{"data": {"name": "rsi"}, "mark": {"type": "line", "color": "#ff0000", "strokeWidth": 1},
 "encoding": {"x": {"field": "t", "type": "quantitative", "scale": {"domain": [-25.8, 410.2], "nice": false, "zero": false}, "axis": {"orient": "bottom", "title": null, "values": [0,28,56,84,112,140,168,196,224,252,280], "labelExpr": "['11/14','11/16','11/18','11/22','11/24','11/28','11/30','12/02','12/06','12/08','12/12'][round(datum.value/28)]", "labelPadding": 3, "labelFontSize": 12, "labelFlush": false}},
  "y": {"field": "v", "type": "quantitative", "scale": {"domain": [0.65, 106.7], "nice": false, "zero": false}, "axis": {"orient": "right", "title": null, "values": [81, 13.5], "labelExpr": "datum.value > 50 ? '100' : '0'"}}}},
{"data": {"values": [{}]}, "mark": {"type": "rule", "color": "#7a7a7a", "strokeWidth": 2.5},
 "encoding": {"y": {"datum": 105, "type": "quantitative", "axis": null}}},
{"data": {"values": [{}]}, "mark": {"type": "rule", "color": "black", "strokeWidth": 1.5},
 "encoding": {"y": {"datum": 70, "type": "quantitative", "axis": null}}},
{"data": {"values": [{}]}, "mark": {"type": "rule", "color": "black", "strokeWidth": 1.5},
 "encoding": {"y": {"datum": 30, "type": "quantitative", "axis": null}}},
{"data": {"values": [{}]}, "mark": {"type": "text", "text": "RSI(13,C)", "font": "Liberation Sans", "fontSize": 12, "color": "#ff0000", "align": "left", "baseline": "middle"},
 "encoding": {"x": {"datum": -25.8, "type": "quantitative", "axis": null}, "y": {"datum": 81, "type": "quantitative", "axis": null}}},
{"data": {"values": [{}]}, "mark": {"type": "rect", "color": "#ff0000"},
 "encoding": {"x": {"datum": 411.3, "type": "quantitative", "axis": null}, "x2": {"datum": 433.5}, "y": {"datum": 61, "type": "quantitative", "axis": null}, "y2": {"datum": 29.3}}},
{"data": {"values": [{}]}, "mark": {"type": "text", "text": "35.31", "font": "Liberation Sans", "fontWeight": "bold", "fontSize": 12, "color": "white", "align": "left", "baseline": "middle"},
 "encoding": {"x": {"datum": 411.8, "type": "quantitative", "axis": null}, "y": {"datum": 45, "type": "quantitative", "axis": null}}}
]
}
]
}
